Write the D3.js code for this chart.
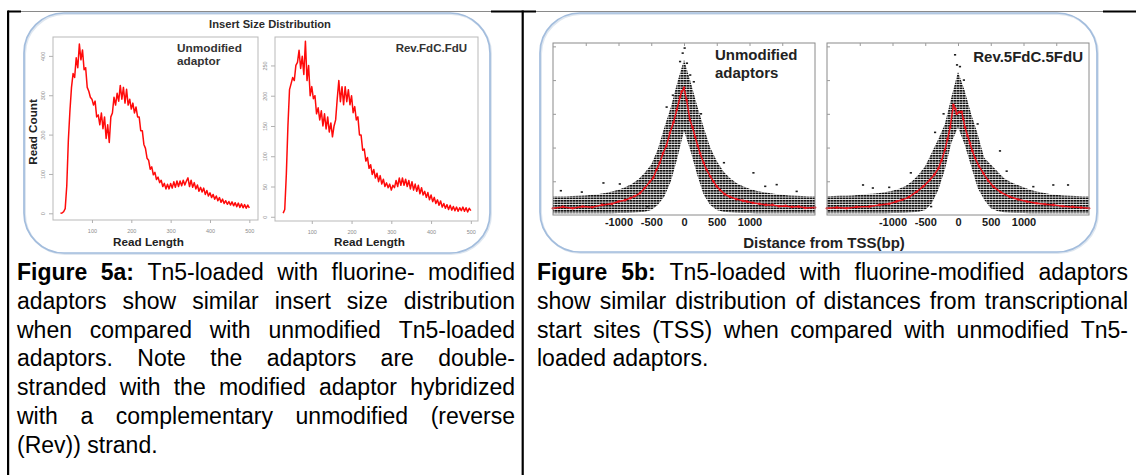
<!DOCTYPE html>
<html>
<head>
<meta charset="utf-8">
<script src="https://cdn.jsdelivr.net/npm/d3@7"></script>
<style>
body { margin: 0; background: #fff; }
svg { display: block; font-family: "Liberation Sans", Arial, sans-serif; }
</style>
</head>
<body>
<svg width="1136" height="475"></svg>
<script>
// ---- data ----

// insert size distribution (read length -> read count), bins of 4 bp
var lenUnmod = d3.range(20, 501, 4);
var countUnmod = [
  0, 1, 4, 12, 70, 185, 260, 320, 355, 345,
  395, 370, 430, 390, 415, 365, 370, 320, 310, 295,
  290, 275, 285, 245, 250, 225, 255, 215, 245, 190,
  225, 180, 245, 255, 295, 275, 305, 285, 325, 290,
  320, 280, 315, 275, 290, 265, 280, 255, 270, 245,
  245, 210, 210, 175, 165, 140, 135, 112, 118, 98,
  104, 86, 92, 78, 84, 68, 76, 62, 74, 62,
  76, 64, 80, 66, 82, 68, 82, 70, 84, 72,
  82, 90, 68, 84, 66, 78, 62, 72, 56, 66,
  54, 64, 48, 58, 44, 52, 40, 48, 36, 44,
  32, 40, 28, 36, 25, 32, 23, 30, 21, 29,
  19, 27, 17, 26, 15, 24, 14, 22, 13, 21,
  14
];
var lenRev = d3.range(28, 501, 4);
var countRev = [
  6, 12, 70, 150, 210, 220, 230, 225, 250, 255,
  275, 245, 265, 235, 290, 225, 250, 200, 215, 195,
  200, 170, 180, 160, 175, 150, 170, 145, 165, 140,
  155, 132, 150, 160, 195, 225, 190, 215, 185, 215,
  190, 210, 185, 200, 172, 182, 160, 165, 135, 135,
  110, 112, 92, 98, 80, 86, 70, 78, 64, 72,
  58, 68, 54, 62, 50, 56, 48, 54, 44, 52,
  48, 60, 50, 64, 52, 64, 52, 62, 50, 60,
  46, 58, 44, 54, 42, 52, 38, 48, 36, 42,
  32, 40, 28, 36, 25, 32, 22, 28, 19, 26,
  16, 22, 14, 20, 12, 19, 11, 17, 10, 16,
  9, 15, 10, 16, 9, 15, 8, 14, 10
];
var insertTicksX = [100, 200, 300, 400, 500];
var countTicksUnmod = [0, 100, 200, 300, 400];
var countTicksRev = [0, 50, 100, 150, 200, 250];

// distance from TSS: spread of the point cloud (low / high) per 100 bp
var tssPos = d3.range(-2000, 2001, 100);
var tssLowUnmod = [
  0.05, 0.05, 0.05, 0.05, 0.05, 0.05, 0.05, 0.05, 0.05, 0.05,
  0.06, 0.06, 0.07, 0.08, 0.1, 0.15, 0.3, 0.55, 1.0, 1.7,
  2.5,
  1.9, 1.2, 0.6, 0.3, 0.15, 0.1, 0.08, 0.07, 0.06, 0.06,
  0.05, 0.05, 0.05, 0.05, 0.05, 0.05, 0.05, 0.05, 0.05, 0.05
];
var tssHighUnmod = [
  0.55, 0.55, 0.55, 0.56, 0.57, 0.58, 0.6, 0.62, 0.65, 0.7,
  0.75, 0.82, 0.92, 1.05, 1.25, 1.5, 1.95, 2.6, 3.2, 3.95,
  4.6,
  3.95, 3.25, 2.6, 2.0, 1.6, 1.3, 1.1, 0.95, 0.85, 0.78,
  0.72, 0.68, 0.65, 0.62, 0.6, 0.58, 0.57, 0.56, 0.55, 0.55
];
var tssLowRev = [
  0.05, 0.05, 0.05, 0.05, 0.05, 0.05, 0.05, 0.05, 0.05, 0.05,
  0.06, 0.06, 0.07, 0.08, 0.1, 0.15, 0.35, 0.75, 1.35, 2.15,
  2.6,
  2.1, 1.45, 0.8, 0.45, 0.2, 0.12, 0.08, 0.07, 0.06, 0.06,
  0.05, 0.05, 0.05, 0.05, 0.05, 0.05, 0.05, 0.05, 0.05, 0.05
];
var tssHighRev = [
  0.55, 0.56, 0.57, 0.57, 0.58, 0.6, 0.62, 0.63, 0.65, 0.68,
  0.72, 0.78, 0.86, 1.0, 1.2, 1.45, 1.85, 2.25, 2.7, 3.5,
  4.25,
  3.7, 3.0, 2.4, 1.7, 1.5, 1.3, 1.1, 0.98, 0.9, 0.82,
  0.75, 0.7, 0.66, 0.62, 0.6, 0.58, 0.57, 0.56, 0.55, 0.55
];
// running mean (red) [distance, value]
var tssMeanUnmod = [
  [-2000, 0.2], [-1850, 0.24], [-1700, 0.2], [-1550, 0.25], [-1400, 0.23], [-1250, 0.3],
  [-1100, 0.33], [-1000, 0.4], [-900, 0.44], [-820, 0.5], [-750, 0.56], [-670, 0.65],
  [-600, 0.8], [-520, 0.99], [-470, 1.1], [-420, 1.34], [-370, 1.55], [-320, 1.83],
  [-270, 2.05], [-215, 2.43], [-160, 2.75], [-110, 3.12], [-60, 3.5], [-35, 3.66],
  [0, 3.77], [40, 3.41], [90, 2.82], [130, 2.6], [170, 2.32], [210, 2.05], [245, 1.83],
  [300, 1.55], [345, 1.34], [400, 1.15], [450, 0.99], [500, 0.85], [550, 0.74],
  [620, 0.62], [700, 0.54], [800, 0.47], [900, 0.42], [960, 0.4], [1050, 0.36],
  [1150, 0.33], [1250, 0.3], [1350, 0.3], [1450, 0.26], [1550, 0.27], [1650, 0.24],
  [1750, 0.25], [1850, 0.21], [2000, 0.22]
];
var tssMeanRev = [
  [-2000, 0.2], [-1850, 0.22], [-1700, 0.2], [-1550, 0.24], [-1350, 0.25], [-1200, 0.3],
  [-1050, 0.33], [-940, 0.4], [-850, 0.45], [-750, 0.53], [-630, 0.69], [-530, 0.85],
  [-430, 1.04], [-360, 1.2], [-300, 1.38], [-250, 1.62], [-200, 1.93], [-160, 2.25],
  [-120, 2.6], [-70, 3.26], [-40, 3.15], [-20, 3.0], [20, 3.05], [56, 3.06], [80, 2.85],
  [107, 2.6], [145, 2.35], [183, 2.13], [220, 1.9], [260, 1.69], [320, 1.45], [387, 1.24],
  [460, 1.02], [540, 0.84], [650, 0.68], [790, 0.54], [920, 0.46], [1050, 0.4],
  [1200, 0.35], [1330, 0.32], [1455, 0.3], [1600, 0.26], [1750, 0.24], [1880, 0.22], [2000, 0.2]
];
// isolated points outside the dense cloud
var tssOutUnmod = [
  [-1880, 0.72], [-1560, 0.68], [-1230, 0.95], [-980, 0.92], [-560, 0.25], [-265, 3.2],
  [-170, 3.55], [-60, 4.55], [-20, 4.8], [10, 4.95], [45, 4.5], [95, 4.15], [150, 3.95],
  [260, 3.0], [610, 1.55], [1060, 1.25], [1240, 0.85], [1415, 0.9], [1720, 0.7]
];
var tssOutRev = [
  [-1450, 0.89], [-1300, 0.8], [-1050, 0.82], [-720, 1.25], [-410, 0.25], [-350, 2.45],
  [-220, 3.0], [-45, 4.75], [-15, 4.45], [30, 4.4], [90, 4.0], [300, 2.7], [641, 1.9],
  [743, 1.3], [1150, 0.84], [1455, 0.89], [1680, 0.89]
];
var tssLabelTicks = [-1000, -500, 0, 500, 1000];
var tssMinorTicks = [-1500, -1000, -500, 0, 500, 1000, 1500];
var tssYTicks = [1, 2, 3, 4, 5];

// caption lines as laid out in the document
var cap5a = [
  'Figure 5a: Tn5-loaded with fluorine- modified',
  'adaptors show similar insert size distribution',
  'when compared with unmodified Tn5-loaded',
  'adaptors. Note the adaptors are double-',
  'stranded with the modified adaptor hybridized',
  'with a complementary unmodified (reverse',
  '(Rev)) strand.'
];
var cap5b = [
  'Figure 5b: Tn5-loaded with fluorine-modified adaptors',
  'show similar distribution of distances from transcriptional',
  'start sites (TSS) when compared with unmodified Tn5-',
  'loaded adaptors.'
];

// ---- drawing ----
var svg = d3.select('svg');
var defs = svg.append('defs');
defs.append('pattern')
    .attr('id', 'cloud')
    .attr('width', 3).attr('height', 2.5)
    .attr('patternUnits', 'userSpaceOnUse')
  .append('rect')
    .attr('width', 2.6).attr('height', 1.7)
    .attr('fill', '#141414');

// table rules
svg.append('line').attr('x1', 8).attr('x2', 1136).attr('y1', 11.5).attr('y2', 11.5)
    .attr('stroke', '#8a8a8a').attr('stroke-width', 1);
[[8, 21], [491, 536], [1103, 1136]].forEach(function(s) {
  svg.append('rect').attr('x', s[0]).attr('y', 10.5).attr('width', s[1] - s[0]).attr('height', 2)
      .attr('fill', '#000');
});
svg.append('rect').attr('x', 7).attr('y', 10.5).attr('width', 2.2).attr('height', 465).attr('fill', '#000');
svg.append('rect').attr('x', 521.6).attr('y', 10.5).attr('width', 2.2).attr('height', 465).attr('fill', '#000');

// rounded blue frames
[[24, 13, 466, 240], [540, 13, 557, 239]].forEach(function(b) {
  svg.append('rect').attr('x', b[0] + 1).attr('y', b[1] + 1).attr('width', b[2]).attr('height', b[3])
      .attr('rx', 40).attr('fill', 'none').attr('stroke', '#dfe7f0').attr('stroke-width', 2);
  svg.append('rect').attr('x', b[0]).attr('y', b[1]).attr('width', b[2]).attr('height', b[3])
      .attr('rx', 40).attr('fill', 'none').attr('stroke', '#a3bddd').attr('stroke-width', 1.7);
});

function insertPanel(p) {
  var x = d3.scaleLinear().domain(p.xDom).range([p.x0, p.x1]);
  var y = d3.scaleLinear().domain(p.yDom).range([p.y1, p.y0]);
  var g = svg.append('g');

  g.append('path')
      .datum(d3.zip(p.len, p.count))
      .attr('fill', 'none')
      .attr('stroke', '#ff0a0a')
      .attr('stroke-width', 1.5)
      .attr('stroke-linejoin', 'round')
      .attr('d', d3.line().x(function(d) { return x(d[0]); }).y(function(d) { return y(d[1]); }));

  g.append('rect')
      .attr('x', p.x0).attr('y', p.y0).attr('width', p.x1 - p.x0).attr('height', p.y1 - p.y0)
      .attr('fill', 'none').attr('stroke', '#b9b9b9').attr('stroke-width', 1);

  var ya = g.append('g').attr('transform', 'translate(' + p.x0 + ',0)')
      .call(d3.axisLeft(y).tickValues(p.yTicks).tickSize(4));
  ya.selectAll('text')
      .attr('transform', 'rotate(-90)').attr('x', 0).attr('y', -8).attr('dy', 0)
      .style('text-anchor', 'middle');
  var xa = g.append('g').attr('transform', 'translate(0,' + p.y1 + ')')
      .call(d3.axisBottom(x).tickValues(insertTicksX).tickSize(3).tickPadding(6));
  [ya, xa].forEach(function(a) {
    a.select('.domain').remove();
    a.selectAll('line').attr('stroke', '#b0b0b0');
    a.selectAll('text').attr('fill', '#8c8c8c').style('font-size', '5.5px').style('font-family', 'Liberation Sans, Arial');
  });

  p.label.forEach(function(t, i) {
    g.append('text')
        .attr('x', p.labelX).attr('y', 52 + i * 12.5)
        .attr('text-anchor', p.labelAnchor)
        .attr('font-size', p.labelSize).attr('font-weight', 'bold').attr('fill', '#333')
        .text(t);
  });
  g.append('text')
      .attr('x', (p.x0 + p.x1) / 2 - 7).attr('y', 246)
      .attr('text-anchor', 'middle')
      .attr('font-size', 11.7).attr('font-weight', 'bold').attr('fill', '#222')
      .text('Read Length');
}

insertPanel({
  x0: 53, x1: 258, y0: 37, y1: 220, xDom: [1, 522], yDom: [-17, 448],
  len: lenUnmod, count: countUnmod, yTicks: countTicksUnmod,
  label: ['Unmodified', 'adaptor'], labelX: 177, labelAnchor: 'start', labelSize: 11.8
});
insertPanel({
  x0: 275, x1: 478, y0: 37, y1: 221, xDom: [7.5, 518], yDom: [-7, 297],
  len: lenRev, count: countRev, yTicks: countTicksRev,
  label: ['Rev.FdC.FdU'], labelX: 467, labelAnchor: 'end', labelSize: 11.5
});

svg.append('text')
    .attr('x', 270).attr('y', 27.5).attr('text-anchor', 'middle')
    .attr('font-size', 11.2).attr('font-weight', 'bold').attr('fill', '#2a2a2a')
    .text('Insert Size Distribution');
svg.append('text')
    .attr('transform', 'translate(37,132) rotate(-90)')
    .attr('text-anchor', 'middle')
    .attr('font-size', 11.7).attr('font-weight', 'bold').attr('fill', '#222')
    .text('Read Count');

function tssPanel(p) {
  var x = d3.scaleLinear().domain([-2000, 2000]).range([p.x0, p.x1]);
  var y = d3.scaleLinear().domain([0, 5.1]).range([p.y1, p.y0]);
  var g = svg.append('g');

  g.append('path')
      .datum(d3.zip(tssPos, p.low, p.high))
      .attr('fill', 'url(#cloud)')
      .attr('d', d3.area()
          .x(function(d) { return x(d[0]); })
          .y0(function(d) { return y(d[1]); })
          .y1(function(d) { return y(d[2]); }));

  g.selectAll('.out')
      .data(p.out)
      .enter().append('rect')
      .attr('x', function(d) { return x(d[0]) - 1.1; })
      .attr('y', function(d) { return y(d[1]) - 0.8; })
      .attr('width', 2.2).attr('height', 1.6)
      .attr('fill', '#1c1c1c');

  g.append('path')
      .datum(p.mean)
      .attr('fill', 'none')
      .attr('stroke', '#e8141c')
      .attr('stroke-width', 1.5)
      .attr('d', d3.line().x(function(d) { return x(d[0]); }).y(function(d) { return y(d[1]); }));
  g.selectAll('.mp')
      .data(p.mean)
      .enter().append('circle')
      .attr('cx', function(d) { return x(d[0]); })
      .attr('cy', function(d) { return y(d[1]); })
      .attr('r', 1.3)
      .attr('fill', '#e8141c');

  g.append('rect')
      .attr('x', p.x0).attr('y', p.y0).attr('width', p.x1 - p.x0).attr('height', p.y1 - p.y0)
      .attr('fill', 'none').attr('stroke', '#8a8a8a').attr('stroke-width', 1);

  var top = g.append('g').attr('transform', 'translate(0,' + p.y0 + ')')
      .call(d3.axisTop(x).tickValues(tssMinorTicks).tickSize(-3).tickFormat(''));
  var left = g.append('g').attr('transform', 'translate(' + p.x0 + ',0)')
      .call(d3.axisLeft(y).tickValues(tssYTicks).tickSize(-3).tickFormat(''));
  var bottom = g.append('g').attr('transform', 'translate(0,' + p.y1 + ')')
      .call(d3.axisBottom(x).tickValues(tssLabelTicks).tickSize(0).tickPadding(3)
        .tickFormat(function(d) { return String(d); }));
  [top, left, bottom].forEach(function(a) {
    a.select('.domain').remove();
    a.selectAll('line').attr('stroke', '#9a9a9a');
  });
  bottom.selectAll('text')
      .attr('fill', '#1a1a1a')
      .style('font-size', '11px').style('font-weight', 'bold')
      .style('font-family', 'Liberation Sans, Arial');

  p.label.forEach(function(t, i) {
    g.append('text')
        .attr('x', p.labelX).attr('y', p.labelY + i * 18)
        .attr('text-anchor', p.labelAnchor)
        .attr('font-size', 15).attr('font-weight', 'bold').attr('fill', '#222')
        .text(t);
  });
}

tssPanel({
  x0: 553, x1: 815, y0: 43, y1: 215,
  low: tssLowUnmod, high: tssHighUnmod, mean: tssMeanUnmod, out: tssOutUnmod,
  label: ['Unmodified', 'adaptors'], labelX: 715, labelY: 60, labelAnchor: 'start'
});
tssPanel({
  x0: 827, x1: 1089, y0: 43, y1: 215,
  low: tssLowRev, high: tssHighRev, mean: tssMeanRev, out: tssOutRev,
  label: ['Rev.5FdC.5FdU'], labelX: 1083, labelY: 62, labelAnchor: 'end'
});

svg.append('text')
    .attr('x', 824).attr('y', 248).attr('text-anchor', 'middle')
    .attr('font-size', 15).attr('font-weight', 'bold').attr('fill', '#222')
    .text('Distance from TSS(bp)');

// justified captions, first two words bold
function caption(lines, x0, x1, y0, lh) {
  var fs = 23;
  lines.forEach(function(line, i) {
    var words = line.split(' ');
    var g = svg.append('g');
    var nodes = words.map(function(w, k) {
      return g.append('text')
          .attr('y', y0 + i * lh)
          .attr('font-size', fs)
          .attr('font-weight', (i === 0 && k < 2) ? 'bold' : 'normal')
          .attr('fill', '#000')
          .text(w);
    });
    var widths = nodes.map(function(n) { return n.node().getComputedTextLength(); });
    var last = i === lines.length - 1;
    var gap = last ? fs * 0.278 : (x1 - x0 - d3.sum(widths)) / (words.length - 1);
    var cx = x0;
    nodes.forEach(function(n, k) {
      n.attr('x', cx);
      cx += widths[k] + gap;
    });
  });
}
caption(cap5a, 17, 515, 280, 28.8);
caption(cap5b, 537, 1128, 280, 28.8);
</script>
</body>
</html>
